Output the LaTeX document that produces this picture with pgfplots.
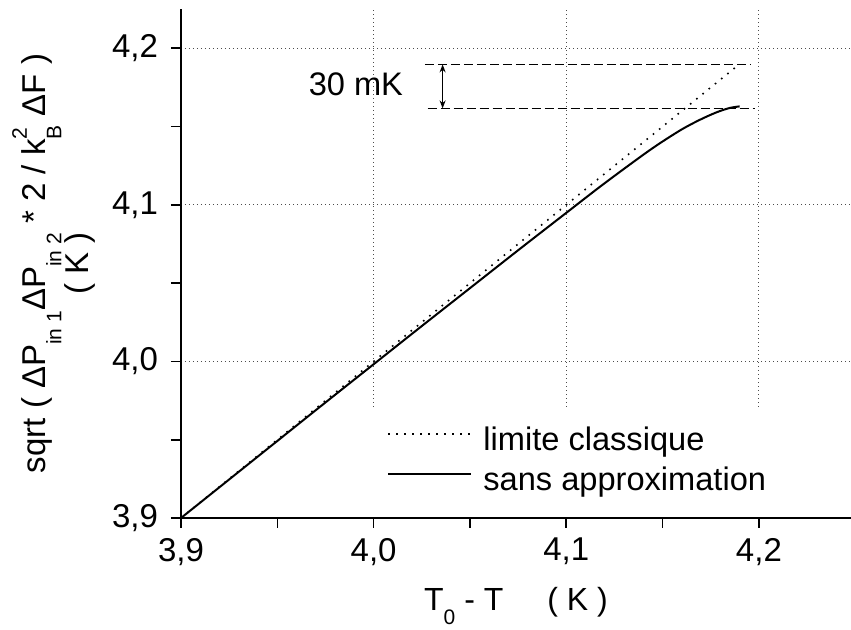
\documentclass[border=0pt]{standalone}
\usepackage{pgfplots}
\pgfplotsset{compat=1.18}
\usepackage{fontspec}
\setmainfont{Liberation Sans}
\usetikzlibrary{arrows.meta}
\newcommand\lsub[1]{\raisebox{-0.5em}{\fontsize{10.5}{11}\selectfont #1}}
\newcommand\xsub[1]{\raisebox{-0.42em}{\fontsize{10.5}{11}\selectfont #1}}
\newcommand\lsup[1]{\raisebox{0.55em}{\fontsize{10.5}{11}\selectfont #1}}
\begin{document}
\begin{tikzpicture}
\useasboundingbox (-90.5pt,-56pt) rectangle (335pt,259pt);
\begin{axis}[
  at={(0,0)}, anchor=south west,
  scale only axis, width=335pt, height=254.5pt,
  xmin=3.9, xmax=4.2478, ymin=3.9, ymax=4.2251,
  axis x line=bottom, axis y line=left,
  x axis line style={-, line width=1pt},
  y axis line style={-, line width=1pt},
  xtick={3.9,4.0,4.1,4.2}, ytick={3.9,4.0,4.1,4.2},
  minor x tick num=1, minor y tick num=1,
  tick align=outside, major tick length=5pt, minor tick length=5pt,
  tick style={line width=0.8pt, black},
  ymajorgrids,
  major grid style={black!70, line width=0.5pt, dash pattern=on 0.5pt off 1.5pt},
  /pgf/number format/.cd, use comma, fixed, precision=1, fixed zerofill, assume math mode=true,
  /pgfplots/.cd,
  tick label style={font=\fontsize{16.5}{18}\selectfont},
  xticklabel style={yshift=-1.5pt},
  yticklabel style={xshift=-3pt},
  xlabel={T\xsub{0} - T\hspace{22pt}( K )},
  xlabel style={at={(axis description cs:0.5,-0.182)}, anchor=base, inner sep=0pt, font=\fontsize{16}{18}\selectfont},
  ylabel={sqrt ( ΔP\lsub{in 1}ΔP\lsub{in 2} * 2 / k\rlap{\lsup{2}}\lsub{B} ΔF )\\( K )},
  ylabel style={at={(axis description cs:-0.128,0.5)}, anchor=south, inner sep=0pt, align=center, font=\fontsize{16.5}{21.5}\selectfont},
  legend style={at={(axis description cs:0.3075,0.1807)}, anchor=north west, draw=none, fill=none, inner sep=0pt,
    column sep=5.5pt, row sep=4pt,
    nodes={inner sep=0pt, text height=12pt, text depth=4pt, font=\fontsize{16.3}{19}\selectfont}},
  legend cell align=left,
  legend image code/.code={\draw[#1] (0pt,4.2pt) -- (41.5pt,4.2pt);},
]
\addplot[black, line width=0.8pt, dash pattern=on 0.8pt off 3.2pt] coordinates {(3.9,3.9) (4.19,4.19)};
\addlegendentry{limite classique}
\addplot[black, line width=1pt, smooth] coordinates {
(3.900,3.9000) (3.925,3.9246) (3.950,3.9492) (3.975,3.9738) (4.000,3.9982)
(4.025,4.0226) (4.050,4.0468) (4.075,4.0710) (4.100,4.0949) (4.120,4.1139)
(4.1434,4.1350) (4.159,4.1475) (4.1693,4.1543) (4.178,4.1591) (4.1849,4.1619) (4.190,4.1629)};
\addlegendentry{sans approximation}
\draw[black!70, line width=0.5pt, dash pattern=on 0.5pt off 1.5pt] (axis cs:4.0,3.971) -- (axis cs:4.0,4.2251);
\draw[black!70, line width=0.5pt, dash pattern=on 0.5pt off 1.5pt] (axis cs:4.1,3.971) -- (axis cs:4.1,4.2251);
\draw[black!70, line width=0.5pt, dash pattern=on 0.5pt off 1.5pt] (axis cs:4.2,3.971) -- (axis cs:4.2,4.2251);
\draw[black, line width=0.7pt, dash pattern=on 4.5pt off 2pt] (axis cs:4.0266,4.1897) -- (axis cs:4.196,4.1897);
\draw[black, line width=0.7pt, dash pattern=on 4.5pt off 2pt] (axis cs:4.028,4.1616) -- (axis cs:4.198,4.1616);
\draw[black, line width=0.7pt, {Stealth[length=4pt,width=3pt]}-{Stealth[length=4pt,width=3pt]}] (axis cs:4.0358,4.1897) -- (axis cs:4.0358,4.1616);
\node[font=\fontsize{16.3}{19}\selectfont, inner sep=0pt] at (axis cs:3.9908,4.1767) {30 mK};
\end{axis}
\end{tikzpicture}
\end{document}
